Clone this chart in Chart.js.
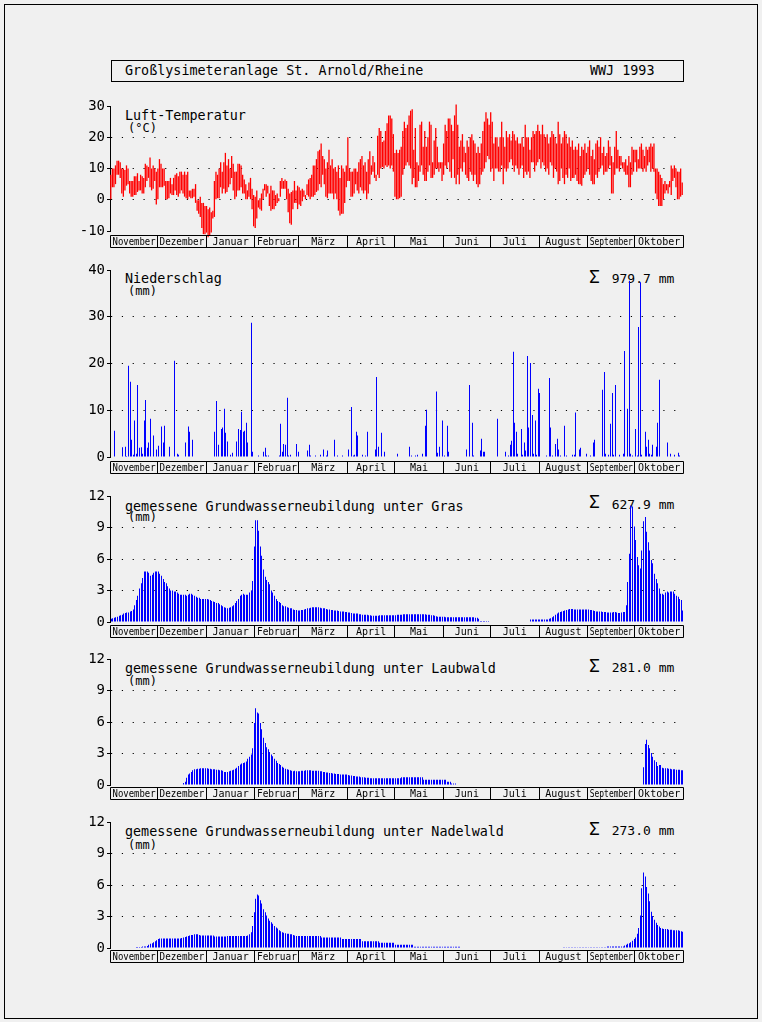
<!DOCTYPE html>
<html lang="de"><head><meta charset="utf-8">
<title>Großlysimeteranlage St. Arnold/Rheine WWJ 1993</title>
<script src="https://cdn.jsdelivr.net/npm/chart.js@4.4.1/dist/chart.umd.min.js"></script>
<style>
html,body{margin:0;padding:0;background:#f0f0f0;}
body{width:762px;height:1022px;position:relative;overflow:hidden;}
.frame{position:absolute;left:4px;top:4px;width:752px;height:1013px;border:1px solid #000;}
.tbox{position:absolute;left:111px;top:60px;width:571px;height:20px;border:1px solid #000;}
.t{position:absolute;white-space:pre;line-height:1;font-family:'DejaVu Sans Mono',monospace;color:#000;}
.big{font-size:13.4px;}
.unit{font-size:12px;}
.sig{font-size:18px;}
.sum{font-size:13px;}
canvas{position:absolute;left:0;}
</style></head><body>
<div class="frame"></div>
<div class="tbox"></div>
<div class="t big" style="left:125px;top:64.3px">Großlysimeteranlage St. Arnold/Rheine</div>
<div class="t big" style="left:590px;top:64.3px">WWJ 1993</div>

<div class="t big" style="left:125px;top:108.7px">Luft-Temperatur</div>
<div class="t unit" style="left:128px;top:122.4px">(°C)</div>

<div class="t big" style="left:125px;top:272px">Niederschlag</div>
<div class="t unit" style="left:128px;top:285.4px">(mm)</div>
<div class="t sig" style="left:589px;top:267.8px">Σ</div>
<div class="t sum" style="left:611.7px;top:271.7px">979.7 mm</div>

<div class="t big" style="left:125px;top:499.7px">gemessene Grundwasserneubildung unter Gras</div>
<div class="t unit" style="left:128px;top:511.4px">(mm)</div>
<div class="t sig" style="left:589px;top:493.3px">Σ</div>
<div class="t sum" style="left:611.7px;top:497.5px">627.9 mm</div>

<div class="t big" style="left:125px;top:661.7px">gemessene Grundwasserneubildung unter Laubwald</div>
<div class="t unit" style="left:128px;top:675.4px">(mm)</div>
<div class="t sig" style="left:589px;top:656.5px">Σ</div>
<div class="t sum" style="left:611.7px;top:660.7px">281.0 mm</div>

<div class="t big" style="left:125px;top:825.4px">gemessene Grundwasserneubildung unter Nadelwald</div>
<div class="t unit" style="left:128px;top:838.9px">(mm)</div>
<div class="t sig" style="left:589px;top:819.8px">Σ</div>
<div class="t sum" style="left:611.7px;top:824px">273.0 mm</div>

<canvas id="c1" width="762" height="158" style="top:92px"></canvas>
<canvas id="c2" width="762" height="220" style="top:256px"></canvas>
<canvas id="c3" width="762" height="158" style="top:482px"></canvas>
<canvas id="c4" width="762" height="157" style="top:645px"></canvas>
<canvas id="c5" width="762" height="158" style="top:808px"></canvas>

<script>
// ---- categories (water year Nov 1992 - Oct 1993) ----
const monthNames = ['November','Dezember','Januar','Februar','März','April','Mai','Juni','Juli','August','September','Oktober'];
const monthDays = [30,31,31,28,31,30,31,30,31,31,30,31];

// ---- y axis ranges [min, max, step] ----
const tempAxis = [-10, 30, 10];
const precipAxis = [0, 40, 10];
const gwAxis = [0, 12, 3];

// ---- daily air temperature maximum (°C) ----
const tMax = [
 8,10,10,11,12.5,12.5,12,10,10,9.5,11,10,6,6,6,7.5,7.5,8.5,6,8,7.5,7,11.5,11,10.5,13.5,10,11,10,9,
 10,13,11.5,10,10,6,6,6,7,5,7,8,8.5,7.5,9,9,8,9,8,9,3,3,3.5,3.5,5,0,0,1,-1,-1,-2,
 -2,-3,-2.5,-4,-3.5,6,9,8,10,12,9,12,15,11,13,10,14,11.5,9,9,11.5,11.5,11,8,6.5,5,3,5.5,7,3.5,1.5,
 1,3,0,0.5,2,3.5,5,5,4.5,2,4.5,3,3,1.5,2,0.5,6,7,6,6.5,6,3.5,2,2.5,3,6,3,4.5,
 4,3,3.5,3,1.5,5,6.5,7,8,11,11,13,15.5,16,18,14,13,10,12,16,11,13,10,10.5,9,11,7,11,10,9,11,
 20,10,9,9,10,10,9,12,13,14,11,12,9,13,15.5,11,14,12,8,20.5,23,22,18.5,19,22,24.5,27,27,26,21,
 15,16,15,16,17,22,25,23,24,27,28.5,29,16,23,12,11,24,25,17,22,17,20,25,24,12,19,23,17,12,12,12,
 18,24,22,26,26,24,22,27,30.5,24,17,19,21,17,15,19,17,20,21,19,18,15,17,15,18,22,25,28,26,24,
 28,25,18,20,20,17,20,25,20,17,22,20,21,19,22,21,19,20,18,18,20,17,24,20,20,16,20,22,21,22,24,
 22,21,24,21,20,21,18,20,22,21,20,18,25,21,18,20,22,21,18,20,17,19,16,17,16,18,14,17,16,18,15,
 17,19,14,16,13,18,19,17,20,15,17,14,15,19,17,14,12,17,22,16,14,14,12,12,13,11,14,12,17,16,
 16,16,13,17,18,16,14,17,16,17,18,17,18,10,10,9,8,7,5,6,5,5,6,11,10,11,10,9,9,10,5.5
];
// ---- daily air temperature minimum (°C) ----
const tMin = [
 0,4,4,5,8,8,7,2,1,3,4.5,5,2,1,1,1.5,1.5,2.5,3,3,2,2,4,6,7,4,3,3.5,6,-1.5,
 0,4,4,4,4.5,0,0,0.5,2,1.5,1.5,3,1.5,1,2,3,2,1,0.5,0,1,0.5,0.5,1,-1,-3.5,-4.5,-5.5,-9,-11,-11,
 -10.5,-12,-11.5,-10.5,-6,-5.5,0,0.5,0.5,4,2,3.5,2,2.5,4,5,7,3,0,1,3,3,4,2,2,0,0,1,0,-3,-8.5,
 -9,-6,-2.5,-3,-3.5,0,3,1,2,-2,-3.5,-3,-3,-2,-1,-0.5,1,3.5,3.5,3.5,0,-4,-7.5,-8,-3,-1,-1,-3,
 -1.5,-2,-0.5,1,0,1.5,1,0,1,1,1.5,2.5,3,5,4,8,5,1,0.5,2,2,2,0,2,0,-3.5,-5,-4.5,-4.5,-1,4,
 6,6,1,1,2,5,3,2,4,3,2,3,0,2,5,8,9,7,6,8,7,10,10.5,10,11,10.5,11,10,11,9,
 1,0,0,0.5,1,8,10,11,12,11,10,5,7,4,4,6,9,11,8,6,6,9,11,7,7,8,10,10,9,10,6,
 8,11,10,12,9,7,13,7,5,8,5,10,9,12,8,7,6,9,8,6,8,5,4,5,8,9,10,12,14,13,
 9,10,6,10,10,9,9,11,5,10,9,10,12,13,11,9,11,10,8,10,11,7,9,8,9,7,12,12,9,11,12,
 13,10,12,11,9,10,8,12,11,7,10,9,5,6,10,7,5,8,7,10,6,7,7,8,6,5,5,4.5,7,8,9,
 10,8,6,5,5,8,7,9,10,11,8,9,9,10,11,2,2,8,10,10,9,11,10,9,8,8,4,4,8,9,
 12,9,10,10,10,9,10,9,11,12,9,10,9,2,0,-2,-2,-2,0,2,3,2,4,1.5,6,7,4,0,0,1,1.5
];
// ---- daily precipitation (mm) ----
const precip = [
 0,0,5.6,0.1,0.1,0,0,2.1,0,2.2,0.2,19.5,16.1,3.7,0.5,7.8,0.7,15.4,2.0,2.1,0.7,7.8,12.2,2.0,3.1,8.2,0.1,4.6,0,1.6,
 2.4,0,6.5,3.1,6.7,0.1,0,2.2,0,0,20.6,0,0.7,0.5,0,0,0,3.1,0,6.5,5.4,0,3.7,0,0,0,0,0,0,0,0,
 0,0,0,0,0,5.4,12.0,2.6,0,6.0,6.3,10.3,5.2,3.3,0,0.5,0.9,0,0.1,3.3,6.0,5.8,9.7,5.4,5.6,7.3,3.1,0,28.7,1.1,0,
 0,0,0.3,0,0,1.1,2.0,0.3,0.3,0,0,0,0,0,0,0.3,7.1,1.1,2.8,2.6,12.7,0.3,0.5,0,0,0,2.8,1.1,
 0,0,0,0,0,1.4,2.6,0.3,0,0,0.3,0,0,0.5,0,1.6,0,0.3,1.4,0,0,0,3.7,0,0.3,0,0,0.3,0,0,0,
 1.6,0,10.7,0.3,0.5,5.4,4.6,0,0,0.5,0,0.3,5.4,0,0,0,0,1.6,17.1,2.2,0,5.2,0,1.1,0,0,0,0,0,0,
 0,0.7,0,0,0,0,0,0,0,2.2,0.3,0,0,0.3,0.5,0,0,0.7,0,6.7,10.1,0,0,0,0,0,14.0,0.9,2.2,0,7.8,
 0.3,0,6.7,1.1,0,0,0,0,0,0,0,0,0,0,1.6,0,15.4,0,7.3,0.3,0,0,0,1.4,3.9,1.1,1.1,0,0,0,
 0,0,0,0,8.2,0.1,0,0,0,1.1,0,0.3,2.6,3.5,22.5,7.3,5.4,0.7,0,6.0,0.5,3.1,1.4,21.6,6.3,20.1,9.0,0.7,7.8,0.5,14.6,
 13.7,0,0,0,0.3,0,16.9,6.3,0.3,0,2.8,3.9,1.6,0.3,0,0,6.7,0.3,0,0,0,0.5,0.5,9.5,0,1.6,2.0,0,0,0,0.7,
 0,0.3,0,3.1,3.7,0,0,0,0,14.4,18.2,0.7,0,0.5,7.1,13.7,0.5,15.4,0,0,0.5,0,0.7,22.7,0,10.3,37.7,0.7,0.3,0,
 6.0,0.3,27.8,37.4,0.5,0,5.4,2.2,3.7,0.7,0.5,2.6,0,2.2,7.3,16.5,0.1,0,0,0,3.1,0,0.7,0,0,0.5,0,0.9,0.3,0,0
];
// ---- measured groundwater recharge under grass (mm) ----
const gwGras = [
 0.3,0.35,0.4,0.45,0.5,0.6,0.65,0.7,0.8,0.85,0.9,0.9,1.0,1.05,1.2,1.6,2.1,2.5,3.2,3.7,4.2,4.8,4.8,4.8,4.7,4.4,4.5,4.7,4.8,4.8,
 4.8,4.6,4.4,4.1,3.8,3.7,3.4,3.2,3.0,3.0,2.9,2.9,2.8,2.7,2.6,2.6,2.6,2.6,2.5,2.6,2.7,2.7,2.6,2.5,2.4,2.3,2.3,2.2,2.2,2.2,2.2,
 2.2,2.15,2.1,2.0,1.95,1.9,1.8,1.8,1.7,1.6,1.5,1.4,1.35,1.3,1.35,1.4,1.5,1.6,1.8,2.0,2.2,2.5,2.6,2.7,2.6,2.6,2.6,2.8,3.0,3.9,7.2,
 9.7,9.7,8.7,7.2,6.3,5.0,4.3,4.0,3.8,3.6,3.0,2.8,2.5,2.2,2.0,1.9,1.8,1.6,1.5,1.5,1.4,1.35,1.3,1.3,1.2,1.15,1.15,1.1,
 1.1,1.15,1.15,1.2,1.25,1.3,1.3,1.35,1.4,1.4,1.4,1.4,1.4,1.35,1.3,1.3,1.3,1.25,1.2,1.2,1.15,1.15,1.1,1.1,1.1,1.05,1.0,1.0,1.0,0.95,0.95,
 0.9,0.9,0.85,0.8,0.8,0.8,0.8,0.75,0.75,0.7,0.7,0.7,0.7,0.65,0.65,0.6,0.6,0.6,0.6,0.6,0.65,0.65,0.65,0.65,0.65,0.65,0.65,0.65,0.65,0.65,
 0.65,0.7,0.7,0.7,0.7,0.75,0.75,0.75,0.75,0.75,0.75,0.75,0.75,0.75,0.75,0.75,0.75,0.75,0.75,0.75,0.7,0.7,0.7,0.65,0.65,0.6,0.55,0.5,0.5,0.5,0.5,
 0.5,0.45,0.45,0.45,0.45,0.45,0.45,0.45,0.45,0.45,0.45,0.45,0.45,0.45,0.45,0.45,0.45,0.45,0.45,0.45,0.4,0.4,0.3,0.1,0.1,0.1,0.1,0.1,0.1,0,
 0,0,0,0,0,0,0,0,0,0,0,0,0,0,0,0,0,0,0,0,0,0,0,0,0,0.25,0.25,0.25,0.25,0.25,0.25,
 0.25,0.25,0.25,0.25,0.25,0.25,0.3,0.35,0.45,0.55,0.7,0.8,0.9,0.95,1.0,1.05,1.1,1.15,1.2,1.25,1.25,1.25,1.2,1.2,1.2,1.2,1.2,1.2,1.2,1.2,1.2,
 1.2,1.15,1.15,1.1,1.05,1.0,1.0,1.0,1.0,0.95,0.95,0.95,0.9,0.9,0.9,0.9,0.95,0.95,0.9,0.85,0.85,0.9,0.95,0.95,1.6,3.8,6.5,11.1,11.0,9.1,
 7.8,6.2,5.4,5.1,6.8,9.6,10.0,8.6,7.6,6.8,5.9,5.6,4.6,4.1,3.7,3.2,2.7,2.7,2.6,2.8,2.9,2.8,2.9,2.9,2.9,2.7,2.5,2.4,2.2,2.1,1.1
];
// ---- measured groundwater recharge under deciduous forest (mm) ----
const gwLaub = [
 0,0,0,0,0,0,0,0,0,0,0,0,0,0,0,0,0,0,0,0,0,0,0,0,0,0,0,0,0,0,
 0,0,0,0,0,0,0,0,0,0,0,0,0,0,0,0,0.2,0.3,0.7,1.0,1.1,1.25,1.4,1.5,1.5,1.55,1.55,1.6,1.6,1.6,1.6,
 1.6,1.55,1.55,1.5,1.5,1.5,1.45,1.45,1.4,1.4,1.35,1.25,1.25,1.25,1.3,1.35,1.4,1.45,1.55,1.65,1.8,1.95,2.05,2.1,2.15,2.25,2.5,2.7,2.9,3.5,5.9,
 7.3,6.9,6.8,5.9,5.3,4.5,4.0,3.6,3.4,3.15,2.9,2.75,2.5,2.3,2.1,2.0,1.9,1.75,1.65,1.55,1.5,1.45,1.4,1.35,1.3,1.35,1.3,1.3,
 1.3,1.35,1.35,1.35,1.4,1.4,1.4,1.4,1.35,1.35,1.35,1.35,1.35,1.3,1.3,1.25,1.25,1.2,1.2,1.15,1.15,1.1,1.1,1.05,1.05,1.05,1.0,1.0,1.0,1.0,1.0,
 0.95,0.9,0.9,0.85,0.85,0.8,0.8,0.8,0.75,0.75,0.75,0.7,0.7,0.7,0.65,0.65,0.65,0.65,0.65,0.65,0.65,0.65,0.65,0.65,0.65,0.65,0.65,0.65,0.65,0.65,
 0.65,0.65,0.65,0.65,0.75,0.75,0.75,0.75,0.75,0.75,0.75,0.75,0.75,0.75,0.75,0.75,0.75,0.75,0.5,0.5,0.5,0.5,0.5,0.5,0.5,0.5,0.5,0.5,0.5,0.5,0.5,
 0.5,0.5,0.3,0.3,0.3,0.15,0.15,0.15,0,0,0,0,0,0,0,0,0,0,0,0,0,0,0,0,0,0,0,0,0,0,
 0,0,0,0,0,0,0,0,0,0,0,0,0,0,0,0,0,0,0,0,0,0,0,0,0,0,0,0,0,0,0,
 0,0,0,0,0,0,0,0,0,0,0,0,0,0,0,0,0,0,0,0,0,0,0,0,0,0,0,0,0,0,0,
 0,0,0,0,0,0,0,0,0,0,0,0,0,0,0,0,0,0,0,0,0,0,0,0,0,0,0,0,0,0,
 0,0,0,0,0,1.7,3.9,4.3,3.8,3.5,3.05,2.7,2.35,2.2,1.8,1.9,1.9,1.65,1.6,1.6,1.6,1.55,1.55,1.5,1.5,1.5,1.45,1.45,1.45,1.4,1.4
];
// ---- measured groundwater recharge under coniferous forest (mm) ----
const gwNadel = [
 0,0,0,0,0,0,0,0,0,0,0,0,0,0,0,0,0.1,0.1,0.1,0.1,0.15,0.15,0.15,0.2,0.3,0.4,0.45,0.55,0.65,0.75,
 0.85,0.9,0.9,0.9,0.9,0.9,0.9,0.9,0.9,0.9,0.9,0.9,0.9,0.9,0.9,0.95,1.0,1.05,1.1,1.15,1.2,1.25,1.25,1.3,1.3,1.3,1.25,1.2,1.2,1.2,1.2,
 1.2,1.2,1.2,1.2,1.2,1.1,1.1,1.1,1.1,1.1,1.1,1.1,1.1,1.15,1.15,1.15,1.15,1.15,1.15,1.15,1.15,1.15,1.15,1.15,1.15,1.15,1.2,1.3,1.5,2.1,3.4,
 4.7,5.1,5.0,4.55,4.25,3.7,3.4,3.1,2.8,2.6,2.45,2.3,2.1,1.95,1.85,1.7,1.6,1.5,1.45,1.4,1.35,1.35,1.3,1.3,1.25,1.2,1.15,1.15,
 1.15,1.15,1.15,1.15,1.15,1.15,1.15,1.15,1.15,1.15,1.15,1.15,1.15,1.15,1.0,1.0,1.0,1.0,1.0,1.0,1.0,1.0,1.0,1.0,1.0,1.0,1.0,0.85,0.85,0.85,0.85,
 0.85,0.85,0.85,0.85,0.85,0.85,0.85,0.85,0.85,0.65,0.65,0.65,0.65,0.65,0.65,0.65,0.65,0.65,0.65,0.65,0.5,0.5,0.5,0.5,0.5,0.5,0.5,0.5,0.5,0.5,
 0.3,0.3,0.3,0.3,0.3,0.3,0.3,0.3,0.3,0.3,0.3,0.3,0.12,0.12,0.12,0.12,0.12,0.12,0.12,0.12,0.12,0.12,0.12,0.12,0.12,0.12,0.12,0.12,0.12,0.12,0.12,
 0.12,0.12,0.12,0.12,0.12,0.12,0.12,0.12,0.12,0.12,0.12,0,0,0,0,0,0,0,0,0,0,0,0,0,0,0,0,0,0,0,
 0,0,0,0,0,0,0,0,0,0,0,0,0,0,0,0,0,0,0,0,0,0,0,0,0,0,0,0,0,0,0,
 0,0,0,0,0,0,0,0,0,0,0,0,0,0,0,0.07,0.07,0.07,0.07,0.07,0.07,0.07,0.07,0.07,0.07,0.07,0.07,0.07,0.07,0.07,0.07,
 0.07,0.07,0.07,0.07,0.07,0.07,0.07,0.07,0.07,0.07,0.07,0.07,0.15,0.15,0.15,0.15,0.15,0.15,0.15,0.15,0.15,0.15,0.15,0.25,0.3,0.4,0.45,0.55,0.7,0.85,
 1.0,1.35,1.9,3.1,5.7,7.2,6.8,5.8,5.2,4.45,3.45,3.05,2.7,2.4,2.2,2.05,1.9,1.85,1.8,1.8,1.8,1.75,1.75,1.75,1.7,1.7,1.7,1.7,1.65,1.6,1.55
];

// day labels derived from the month table
const dayLabels = [];
monthNames.forEach((m, i) => { for (let d = 1; d <= monthDays[i]; d++) dayLabels.push(d + '. ' + m); });

const FONT = "'DejaVu Sans Mono', monospace";

// snap thin bars onto whole pixels so they render crisp (only for 1px bars)
const snapBars = {
  id: 'snapBars',
  beforeDatasetsDraw(chart) {
    chart.data.datasets.forEach((ds, i) => {
      if (ds.barThickness !== 1) return;
      chart.getDatasetMeta(i).data.forEach(el => { el.x = Math.round(el.x) + 0.5; });
    });
  }
};

// month boxes below each panel
const monthBoxes = {
  id: 'monthBoxes',
  afterDraw(chart, args, opts) {
    const ctx = chart.ctx, a = chart.chartArea;
    const n = dayLabels.length;
    const w = (a.right - a.left) / n;
    const yT = Math.round(opts.top) + 0.5, yB = Math.round(opts.bottom) + 0.5;
    ctx.save();
    ctx.setLineDash([]);
    ctx.strokeStyle = '#000';
    ctx.lineWidth = 1;
    ctx.beginPath();
    ctx.rect(Math.round(a.left) + 0.5, yT, Math.round(a.right) - Math.round(a.left), yB - yT);
    ctx.stroke();
    ctx.fillStyle = '#000';
    ctx.font = '10px ' + FONT;
    ctx.textAlign = 'center';
    ctx.textBaseline = 'alphabetic';
    let start = 0;
    monthDays.forEach((len, m) => {
      const x0 = a.left + start * w;
      const x1 = a.left + (start + len) * w;
      if (m > 0) {
        const xl = Math.round(x0) + 0.5;
        ctx.beginPath(); ctx.moveTo(xl, yT); ctx.lineTo(xl, yB); ctx.stroke();
      }
      ctx.fillText(monthNames[m], (x0 + x1) / 2 + 0.5, yB - 2.5, x1 - x0 - 4);
      start += len;
    });
    ctx.restore();
  }
};

function yScale(axis) {
  const [min, max, step] = axis;
  return {
    min, max, z: 1,
    ticks: { stepSize: step, color: '#000', font: { family: FONT, size: 14 }, padding: 2 },
    grid: {
      color: c => (c.tick && c.tick.value !== min && c.tick.value !== max) ? '#000' : 'rgba(0,0,0,0)',
      lineWidth: 1, tickLength: 3, tickColor: '#000', tickBorderDash: [], drawTicks: true
    },
    border: { display: true, color: '#000', width: 1, dash: [1.2, 9.63], dashOffset: 0 },
    afterFit: s => { s.width = 110; }
  };
}

function panel(id, datasets, axis, box) {
  return new Chart(document.getElementById(id), {
    type: 'bar',
    data: { labels: dayLabels, datasets },
    options: {
      responsive: false, animation: false, devicePixelRatio: 1, events: [],
      layout: { padding: { left: 0, right: 79, top: 14, bottom: box.padB } },
      plugins: {
        legend: { display: false }, tooltip: { enabled: false },
        monthBoxes: { top: box.top, bottom: box.bottom }
      },
      scales: {
        x: { type: 'category', display: false, offset: true },
        y: yScale(axis)
      }
    },
    plugins: [snapBars, monthBoxes]
  });
}

function barSet(data, color, thick) {
  return { data, backgroundColor: color, borderWidth: 0, barThickness: thick, inflateAmount: 0, clip: false };
}

panel('c1', [barSet(tMax.map((v, i) => [tMin[i], v]), '#ff0000', 1.3)], tempAxis, { padB: 19, top: 235 - 92, bottom: 247 - 92 });
panel('c2', [barSet(precip, '#0000ff', 1)], precipAxis, { padB: 19, top: 461 - 256, bottom: 473 - 256 });
panel('c3', [barSet(gwGras, '#0000ff', 1)], gwAxis, { padB: 18, top: 625 - 482, bottom: 637 - 482 });
panel('c4', [barSet(gwLaub, '#0000ff', 1)], gwAxis, { padB: 17, top: 787 - 645, bottom: 799 - 645 });
panel('c5', [barSet(gwNadel, '#0000ff', 1)], gwAxis, { padB: 18, top: 950 - 808, bottom: 962 - 808 });
</script>
</body></html>
